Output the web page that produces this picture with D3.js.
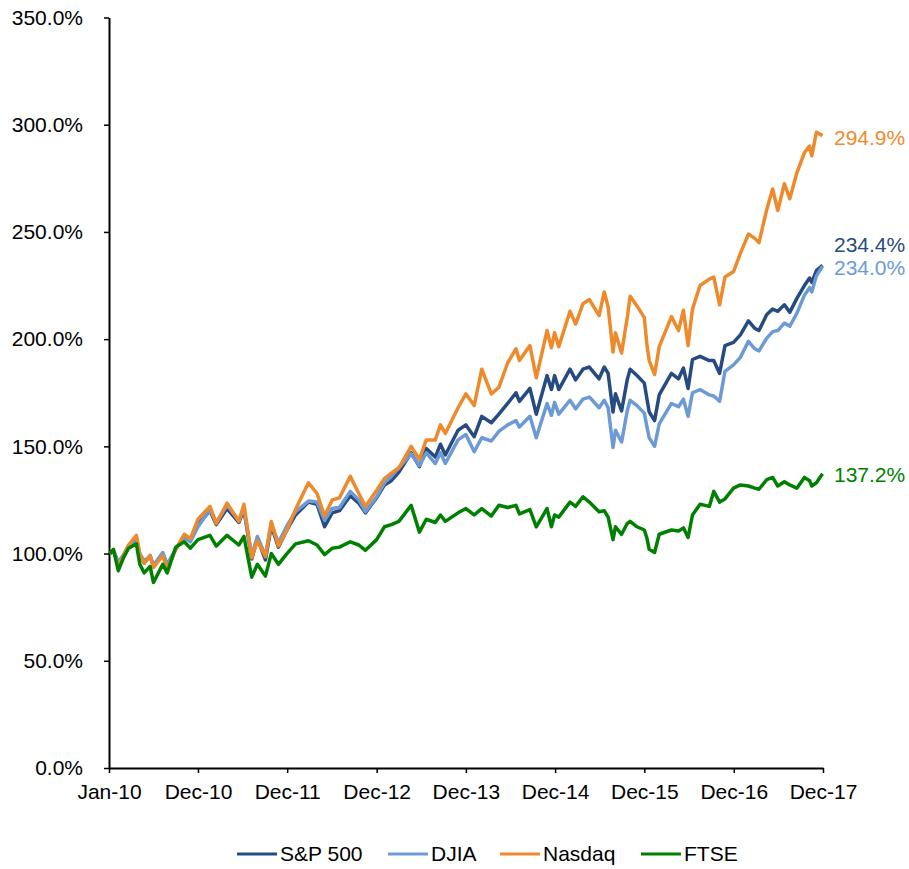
<!DOCTYPE html>
<html>
<head>
<meta charset="utf-8">
<script src="https://cdn.jsdelivr.net/npm/d3@7"></script>
<style>
  body { margin: 0; background: #fff; }
  svg { display: block; font-family: "Liberation Sans", Arial, sans-serif; }
</style>
</head>
<body>
<div id="chart"></div>
<script>
// Values, % of the Jan-10 level
const dates = [
  "2010-01-04","2010-01-19","2010-02-08","2010-03-01","2010-03-22","2010-04-23","2010-05-07","2010-05-25",
  "2010-06-18","2010-07-02","2010-08-09","2010-08-27","2010-10-01","2010-11-05","2010-11-30","2010-12-31",
  "2011-02-18","2011-03-16","2011-04-29","2011-06-16","2011-07-07","2011-08-08","2011-08-31","2011-10-03",
  "2011-10-27","2011-11-25","2011-12-30","2012-02-03","2012-03-27","2012-05-01","2012-06-01","2012-07-02",
  "2012-08-01","2012-09-14","2012-10-19","2012-11-15","2012-12-31","2013-02-01","2013-03-01","2013-04-01",
  "2013-05-21","2013-06-24","2013-07-22","2013-08-28","2013-09-18","2013-10-08","2013-11-29","2013-12-31",
  "2014-02-03","2014-03-06","2014-04-14","2014-05-15","2014-06-20","2014-07-24","2014-08-07","2014-09-19",
  "2014-10-15","2014-11-28","2014-12-16","2014-12-29","2015-01-15","2015-03-02","2015-03-25","2015-04-24",
  "2015-05-20","2015-06-29","2015-07-20","2015-08-05","2015-08-25","2015-09-04","2015-09-29","2015-10-22",
  "2015-11-03","2015-12-01","2015-12-31","2016-01-11","2016-01-20","2016-02-11","2016-03-01","2016-04-20",
  "2016-05-19","2016-06-08","2016-06-27","2016-07-15","2016-08-15","2016-09-22","2016-10-10","2016-11-03",
  "2016-11-25","2016-12-30","2017-01-27","2017-03-01","2017-03-27","2017-04-13","2017-05-15","2017-06-08",
  "2017-06-29","2017-07-26","2017-08-17","2017-09-15","2017-10-16","2017-11-06","2017-11-15","2017-12-04",
  "2017-12-29"
];
const sp500 = [
  100, 101.5, 95.5, 99, 103.5, 107, 99, 95.5, 99, 94, 100, 94.5, 102, 108, 106, 113.5,
  120, 113.5, 121, 114.5, 120.5, 97.5, 107, 97, 113, 103, 111, 118, 124, 123, 112.5, 119,
  120, 127, 123.5, 119, 126, 132, 134, 138, 147, 140.5, 149, 145, 151, 146, 157.5, 160,
  154.5, 164, 161, 165, 170, 175, 171, 177, 165, 183, 176.5, 183, 176.5, 186, 181, 186,
  187, 181.5, 187, 184, 166, 174.5, 166.5, 181, 186, 183, 179.5, 172, 166, 162, 174, 184,
  181.5, 186.5, 177, 190.5, 192, 190, 190, 184, 197, 198.5, 202, 208.5, 205, 204, 211.5, 214,
  213, 216, 212.5, 219, 225, 228.5, 226.5, 232, 234.4
];
const djia = [
  100, 101.5, 96, 99.5, 103.5, 107.5, 100, 96.5, 99, 94.5, 100.5, 95, 102, 107.5, 105.5, 112.5,
  120.5, 114.5, 122.5, 115.5, 121, 99, 108, 99, 114, 105, 113, 119.5, 124.5, 124, 115.5, 121,
  121.5, 129, 125, 119.5, 126.5, 133, 136, 140, 146.5, 141, 147, 142, 147, 142, 153, 155.5,
  147.5, 154, 152.5, 157, 160, 162, 159, 164, 154, 170, 164.5, 170.5, 165, 171.5, 167.5, 172,
  173, 168, 171.5, 168, 149.5, 157.5, 152, 166.5, 171.5, 169, 165.5, 159, 154, 150, 160.5, 170,
  168.5, 172, 164, 175, 176.5, 174, 173.5, 171, 185, 188, 191.5, 199, 195.5, 194.5, 200.5, 203.5,
  204, 207.5, 206, 212, 220.5, 224, 222, 229.5, 234.0
];
const nasdaq = [
  100, 101.5, 94, 99, 104, 108.5, 99.5, 95.5, 99, 93.5, 99, 92.5, 102, 109, 107, 116,
  122, 114, 123.5, 115, 123, 98, 106, 98.5, 115, 103.5, 111, 120.5, 133, 128, 117.5, 125,
  126, 136, 128, 122, 129.5, 135, 137.5, 140, 150, 144, 153, 153, 160, 156, 168, 174.5,
  169, 186, 174.5, 177.5, 189, 195.5, 190, 197, 182, 204, 196, 203, 196.5, 213, 207, 216.5,
  218.5, 211, 222, 215, 194, 203, 193.5, 210, 220, 215.5, 210, 197, 190, 183.5, 196.5, 210.5,
  204, 213.5, 197, 214, 225, 228, 229, 216, 229, 231.5, 240, 249, 247, 245, 260.5, 270,
  260, 272.5, 265.5, 277.5, 287, 290, 285.5, 296.5, 294.9
];
const ftse = [
  100, 102, 92, 98, 102.5, 104.5, 95, 91, 94, 86.5, 95, 91, 103, 105.5, 102.5, 106.5,
  108.5, 103.5, 108.5, 104, 108, 89, 95, 89.5, 100, 95, 100, 104.5, 106, 104, 99.5, 102.5,
  103, 105.5, 104, 101.5, 106.5, 112.5, 113.5, 115, 122.5, 110, 116, 114.5, 118, 115, 119, 121,
  118, 121, 117.5, 122.5, 121.5, 122.5, 118.5, 120.5, 112.5, 121, 112.5, 118, 117, 124, 122, 126.5,
  124, 119.5, 120, 117, 106.5, 112.5, 109, 114, 115, 112.5, 111, 107, 102, 100.5, 109, 111,
  110.5, 112, 107.5, 118, 123, 122, 129, 124, 125.5, 130.5, 132, 131.5, 130.5, 130, 134.5, 135.5,
  131.5, 133.5, 132, 130.5, 135.5, 134, 131.5, 133, 137.2
];

const seriesNames = ["S&P 500", "DJIA", "Nasdaq", "FTSE"];
const seriesValues = [sp500, djia, nasdaq, ftse];
const colors = ["#254b81", "#6c9ad6", "#ee8a2b", "#008000"];
const yTicks = [0, 50, 100, 150, 200, 250, 300, 350];
const xTickDates = ["2010-01-01", "2010-12-31", "2011-12-31", "2012-12-31", "2013-12-31",
  "2014-12-31", "2015-12-31", "2016-12-31", "2017-12-31"];

const W = 909, H = 869;
const margin = { top: 17.5, right: 86, bottom: 101, left: 109 };
const fontSize = 21;
const parse = d3.timeParse("%Y-%m-%d");

const svg = d3.select("#chart").append("svg")
  .attr("width", W)
  .attr("height", H);

const x = d3.scaleTime()
  .domain([parse("2010-01-01"), parse("2017-12-31")])
  .range([margin.left, W - margin.right]);
const y = d3.scaleLinear()
  .domain([0, 350])
  .range([H - margin.bottom, margin.top]);

// axes
const yAxis = svg.append("g")
  .attr("transform", `translate(${margin.left},0)`)
  .call(d3.axisLeft(y).tickValues(yTicks).tickSize(5).tickSizeOuter(0).tickPadding(21)
    .tickFormat(d => d.toFixed(1) + "%"));
const xAxis = svg.append("g")
  .attr("transform", `translate(0,${H - margin.bottom})`)
  .call(d3.axisBottom(x).tickValues(xTickDates.map(parse)).tickSize(5).tickSizeOuter(0).tickPadding(11)
    .tickFormat(d3.timeFormat("%b-%y")));
[yAxis, xAxis].forEach(g => {
  g.select(".domain").attr("stroke", "#000").attr("stroke-width", 2);
  g.selectAll(".tick line").attr("stroke", "#000").attr("stroke-width", 1.5);
  g.selectAll(".tick text").attr("font-size", fontSize).attr("fill", "#000")
    .attr("font-family", "Liberation Sans, Arial, sans-serif");
});

// lines
const line = d3.line()
  .x(d => x(d.date))
  .y(d => y(d.value));
seriesValues.forEach((vals, i) => {
  const pts = dates.map((d, j) => ({ date: parse(d), value: vals[j] }));
  svg.append("path")
    .datum(pts)
    .attr("fill", "none")
    .attr("stroke", colors[i])
    .attr("stroke-width", 3.5)
    .attr("stroke-linejoin", "round")
    .attr("d", line);
});

// end labels
const labelShift = [-21, 1.5, 2, 1];
seriesValues.forEach((vals, i) => {
  const last = vals[vals.length - 1];
  svg.append("text")
    .attr("x", W - margin.right + 11)
    .attr("y", y(last) + labelShift[i])
    .attr("dy", "0.35em")
    .attr("font-size", fontSize)
    .attr("fill", colors[i])
    .text(last.toFixed(1) + "%");
});

// legend
const legendX = [237, 388, 500, 641];
const legend = svg.append("g").attr("transform", "translate(0,854)");
seriesNames.forEach((name, i) => {
  legend.append("line")
    .attr("x1", legendX[i]).attr("x2", legendX[i] + 40)
    .attr("stroke", colors[i]).attr("stroke-width", 3);
  legend.append("text")
    .attr("x", legendX[i] + 43)
    .attr("dy", "0.35em")
    .attr("font-size", fontSize)
    .attr("fill", "#000")
    .text(name);
});
</script>
</body>
</html>
